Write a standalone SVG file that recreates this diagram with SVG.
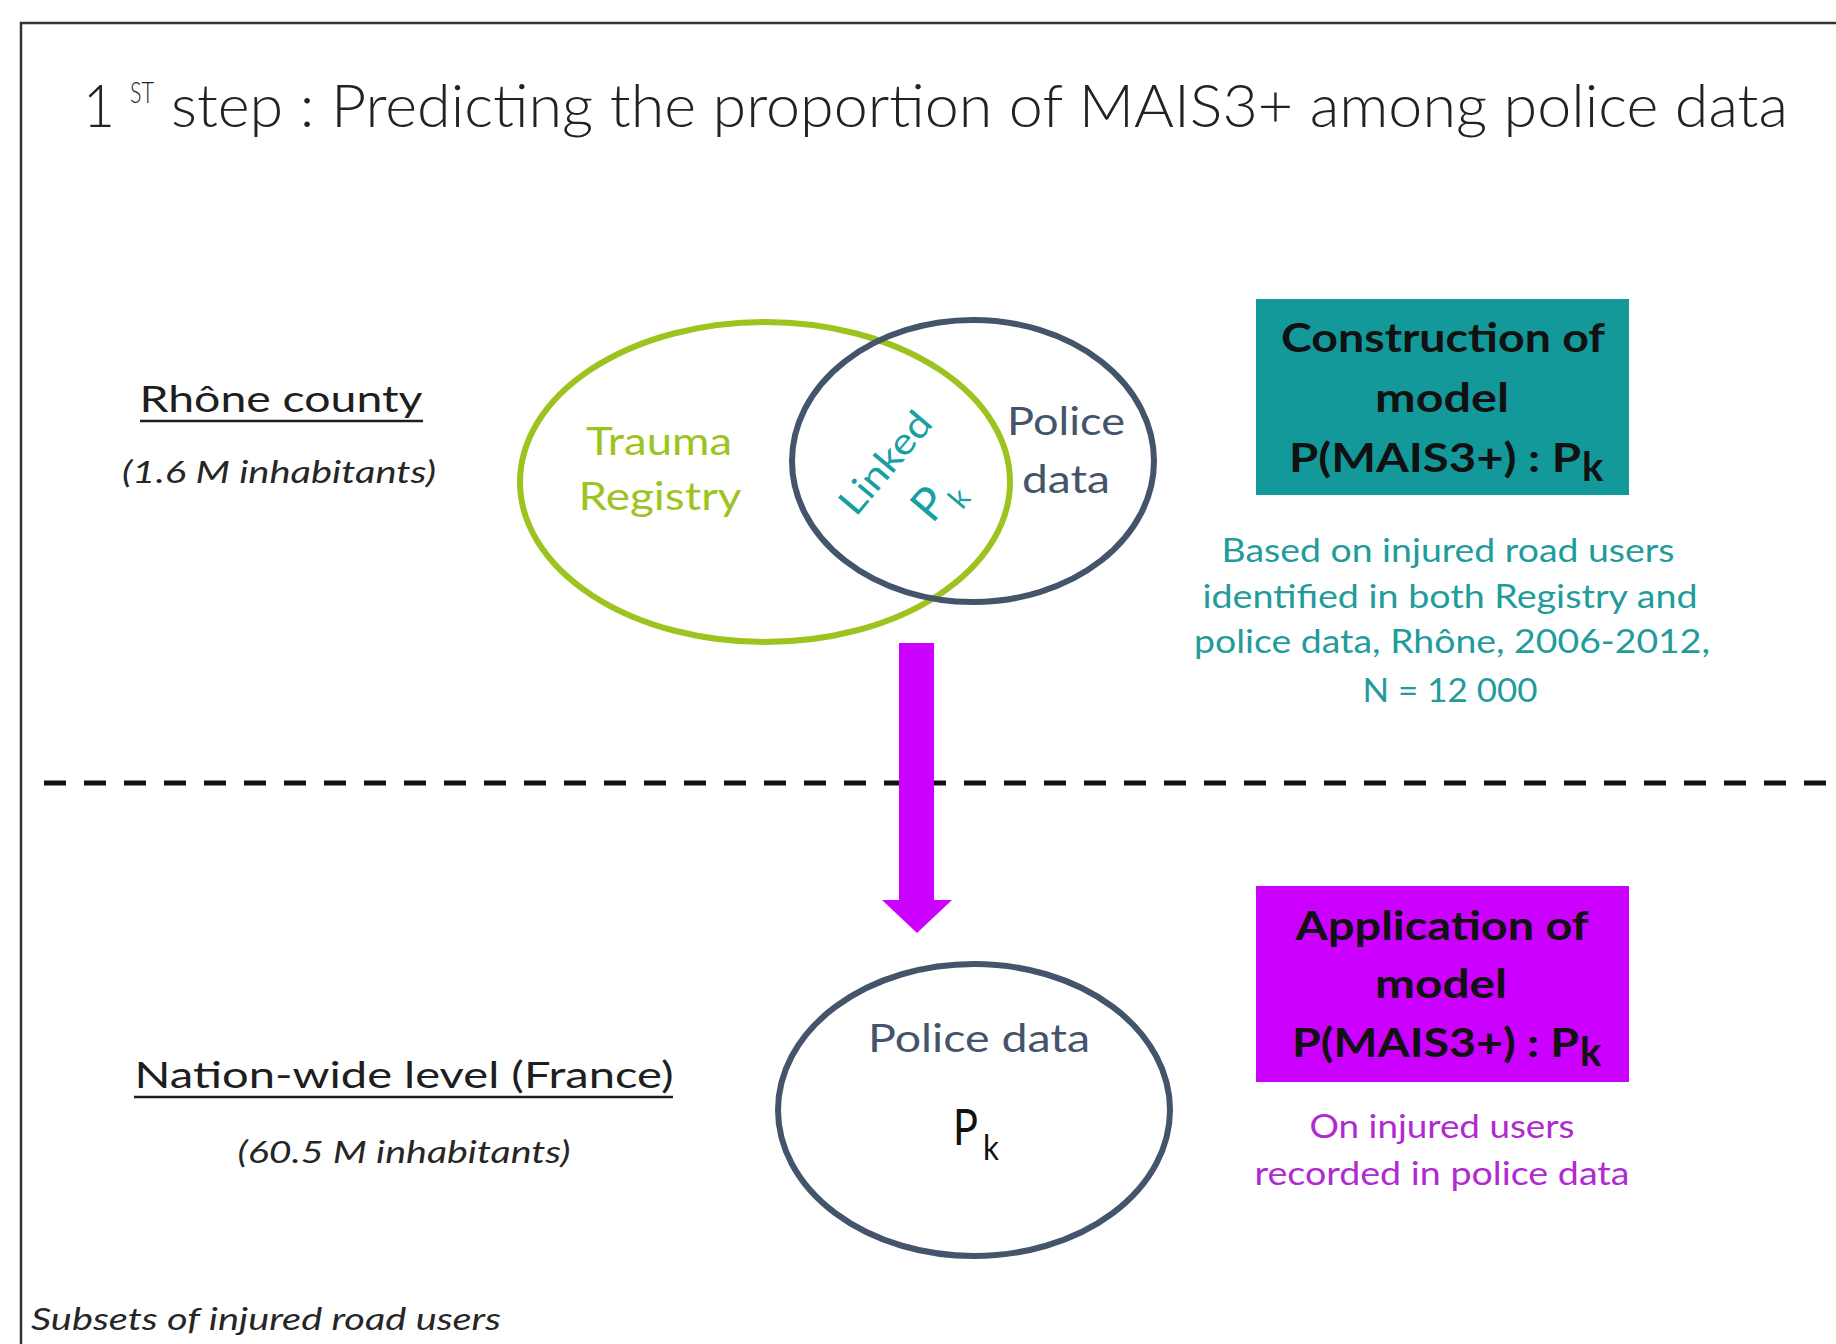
<svg xmlns="http://www.w3.org/2000/svg" width="1836" height="1344" viewBox="0 0 1836 1344">
<style>
text{font-family:"Lato","Open Sans","Liberation Sans",sans-serif;}
.dark{fill:#222222;}
.lbl{font-size:37px;fill:#1e1e1e;}
.it{font-style:italic;font-size:31px;fill:#262626;}
.green{fill:#9DC31F;font-size:38px;}
.slate{fill:#44546A;font-size:38px;}
.bx{font-weight:700;font-size:40px;fill:#111111;}
.tealtxt{fill:#229B9B;font-size:33px;}
.purptxt{fill:#B02ACF;font-size:33px;}
.ul{stroke:#1e1e1e;stroke-width:2.5;}
</style>
<rect x="0" y="0" width="1836" height="1344" fill="#ffffff"/>
<rect x="21" y="23" width="1840" height="1350" fill="none" stroke="#333333" stroke-width="2.5"/>

<g id="title">
<text class="dark" x="83" y="127" font-size="60" font-weight="300" textLength="32" lengthAdjust="spacingAndGlyphs">1</text>
<text class="dark" x="130" y="103" font-size="30" font-weight="300" textLength="24" lengthAdjust="spacingAndGlyphs">ST</text>
<text class="dark" x="171" y="127" font-size="60" font-weight="300" textLength="1617" lengthAdjust="spacingAndGlyphs">step : Predicting the proportion of MAIS3+ among police data</text>
</g>

<g id="rhone-label">
<text class="lbl" x="281" y="412" text-anchor="middle" textLength="283" lengthAdjust="spacingAndGlyphs">Rhône county</text>
<line class="ul" x1="140" y1="421" x2="423" y2="421"/>
<text class="it" x="279" y="483" text-anchor="middle" textLength="314" lengthAdjust="spacingAndGlyphs">(1.6 M inhabitants)</text>
</g>

<g id="trauma-registry">
<ellipse cx="765" cy="482" rx="245" ry="160" fill="none" stroke="#9DC31F" stroke-width="6"/>
<text class="green" x="659" y="455" text-anchor="middle" textLength="146" lengthAdjust="spacingAndGlyphs">Trauma</text>
<text class="green" x="660" y="510" text-anchor="middle" textLength="163" lengthAdjust="spacingAndGlyphs">Registry</text>
</g>

<g id="police-data-rhone">
<ellipse cx="973" cy="461" rx="181" ry="141" fill="none" stroke="#44546A" stroke-width="6"/>
<text class="slate" x="1066" y="435" text-anchor="middle" textLength="118" lengthAdjust="spacingAndGlyphs">Police</text>
<text class="slate" x="1066" y="493" text-anchor="middle" textLength="88" lengthAdjust="spacingAndGlyphs">data</text>
</g>

<g id="linked" transform="translate(895,471) rotate(-50)">
<text x="0" y="0" text-anchor="middle" font-size="37" fill="#17A0A3" textLength="122" lengthAdjust="spacingAndGlyphs">Linked</text>
<text x="-17" y="63" font-size="46" fill="#17A0A3">P</text>
<text x="13" y="77" font-size="30" fill="#17A0A3">k</text>
</g>

<g id="construction-box">
<rect x="1256" y="299" width="373" height="196" fill="#13999A"/>
<text class="bx" x="1443" y="352" text-anchor="middle" textLength="324" lengthAdjust="spacingAndGlyphs">Construction of</text>
<text class="bx" x="1442" y="412" text-anchor="middle" textLength="134" lengthAdjust="spacingAndGlyphs">model</text>
<text class="bx" x="1289" y="472" textLength="292" lengthAdjust="spacingAndGlyphs">P(MAIS3+) : P</text>
<text class="bx" x="1582" y="481" font-size="24">k</text>
</g>

<g id="construction-desc">
<text class="tealtxt" x="1448" y="562" text-anchor="middle" textLength="453" lengthAdjust="spacingAndGlyphs">Based on injured road users</text>
<text class="tealtxt" x="1450" y="608" text-anchor="middle" textLength="495" lengthAdjust="spacingAndGlyphs">identified in both Registry and</text>
<text class="tealtxt" x="1452" y="653" text-anchor="middle" textLength="516" lengthAdjust="spacingAndGlyphs">police data, Rhône, 2006-2012,</text>
<text class="tealtxt" x="1450" y="702" text-anchor="middle" textLength="175" lengthAdjust="spacingAndGlyphs">N = 12 000</text>
</g>

<g id="connectors">
<line x1="44" y1="783" x2="1836" y2="783" stroke="#111111" stroke-width="5" stroke-dasharray="22 18"/>
<polygon points="899,643 934,643 934,900 952,900 917,933 882,900 899,900" fill="#CC00FF"/>
</g>

<g id="nation-label">
<text class="lbl" x="404" y="1088" text-anchor="middle" textLength="539" lengthAdjust="spacingAndGlyphs">Nation-wide level (France)</text>
<line class="ul" x1="134" y1="1097" x2="673" y2="1097"/>
<text class="it" x="404" y="1163" text-anchor="middle" textLength="333" lengthAdjust="spacingAndGlyphs">(60.5 M inhabitants)</text>
</g>

<g id="police-data-france">
<ellipse cx="974" cy="1110" rx="196" ry="146" fill="none" stroke="#44546A" stroke-width="6"/>
<text class="slate" x="979" y="1052" text-anchor="middle" textLength="222" lengthAdjust="spacingAndGlyphs">Police data</text>
<text x="953" y="1145" font-size="51" fill="#111111" textLength="25" lengthAdjust="spacingAndGlyphs">P</text>
<text x="983" y="1160" font-size="34" fill="#111111" textLength="16" lengthAdjust="spacingAndGlyphs">k</text>
</g>

<g id="application-box">
<rect x="1256" y="886" width="373" height="196" fill="#CC00FF"/>
<text class="bx" x="1442" y="940" text-anchor="middle" textLength="293" lengthAdjust="spacingAndGlyphs">Application of</text>
<text class="bx" x="1441" y="998" text-anchor="middle" textLength="132" lengthAdjust="spacingAndGlyphs">model</text>
<text class="bx" x="1292" y="1057" textLength="287" lengthAdjust="spacingAndGlyphs">P(MAIS3+) : P</text>
<text class="bx" x="1580" y="1066" font-size="24">k</text>
</g>

<g id="application-desc">
<text class="purptxt" x="1442" y="1138" text-anchor="middle" textLength="265" lengthAdjust="spacingAndGlyphs">On injured users</text>
<text class="purptxt" x="1442" y="1185" text-anchor="middle" textLength="375" lengthAdjust="spacingAndGlyphs">recorded in police data</text>
</g>

<g id="footnote">
<text class="it" x="31" y="1330" font-size="30" textLength="470" lengthAdjust="spacingAndGlyphs">Subsets of injured road users</text>
</g>
</svg>
